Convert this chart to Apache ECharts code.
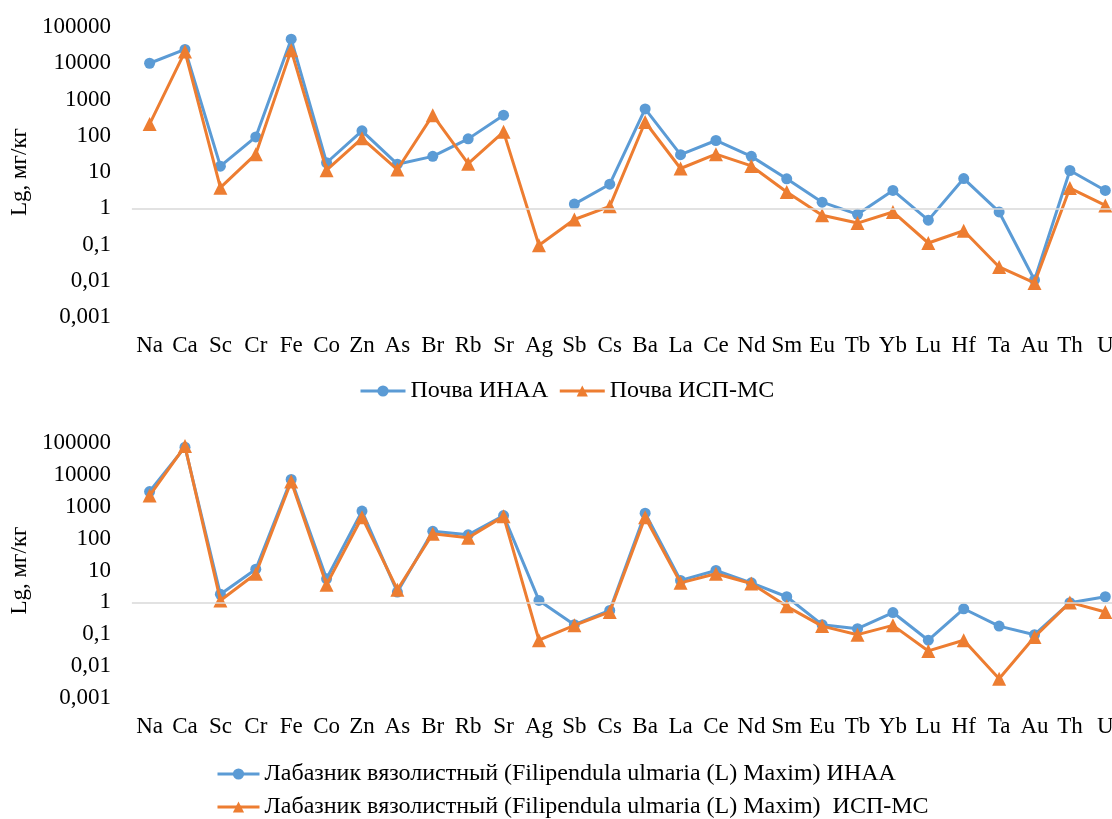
<!DOCTYPE html>
<html>
<head>
<meta charset="utf-8">
<script src="https://cdn.jsdelivr.net/npm/echarts@6/dist/echarts.min.js"></script>
<style>
  html, body { margin: 0; padding: 0; background: #fff; overflow: hidden; }
  /* the plot runs slightly past the right edge of the page, like the last category's half-band */
  #chart { width: 1124px; height: 819px; }
</style>
</head>
<body>
<div id="chart"></div>
<script>
// Elements (x categories)
const categories = ['Na','Ca','Sc','Cr','Fe','Co','Zn','As','Br','Rb','Sr','Ag','Sb','Cs','Ba','La','Ce','Nd','Sm','Eu','Tb','Yb','Lu','Hf','Ta','Au','Th','U'];

// Soil, mg/kg
const soilINAA = [10000, 24000, 14.5, 93, 46000, 18, 137, 16.4, 27, 82, 370, null, 1.3, 4.6, 550, 30, 74, 27, 6.5, 1.47, 0.68, 3.1, 0.47, 6.6, 0.79, 0.0105, 11, 3.1];
const soilICPMS = [210, 21000, 3.7, 31, 23000, 11.2, 85, 11.7, 370, 17, 128, 0.095, 0.49, 1.13, 240, 12.5, 31, 14.7, 2.8, 0.64, 0.39, 0.79, 0.11, 0.24, 0.024, 0.0087, 3.6, 1.2];

// Meadowsweet, mg/kg
const plantINAA = [3000, 74000, 1.8, 11, 7200, 5.5, 730, 2.1, 170, 132, 530, 1.15, 0.2, 0.56, 630, 4.9, 10, 4.1, 1.5, 0.2, 0.15, 0.48, 0.065, 0.63, 0.18, 0.097, 0.98, 1.5];
const plantICPMS = [2250, 80000, 1.15, 7.9, 6200, 3.6, 470, 2.5, 142, 107, 500, 0.065, 0.19, 0.5, 470, 4.1, 7.9, 3.9, 0.75, 0.18, 0.097, 0.19, 0.03, 0.065, 0.004, 0.082, 1.0, 0.5];

// Log-axis tick labels, 10^-3 .. 10^5
const yTickLabels = ['0,001','0,01','0,1','1','10','100','1000','10000','100000'];

const seriesNames = ['Почва ИНАА', 'Почва ИСП-МС',
  'Лабазник вязолистный (Filipendula ulmaria (L) Maxim) ИНАА',
  'Лабазник вязолистный (Filipendula ulmaria (L) Maxim)  ИСП-МС'];

const BLUE = '#5B9BD5';
const ORANGE = '#ED7D31';
const FONT = '"Liberation Serif", "DejaVu Serif", serif';

const chart = echarts.init(document.getElementById('chart'), null, { renderer: 'canvas' });

function xAxisDef(gridIndex) {
  return {
    type: 'category', gridIndex, data: categories, boundaryGap: true,
    axisLine: { show: false }, axisTick: { show: false }, splitLine: { show: false },
    axisLabel: { interval: 0, fontFamily: FONT, fontSize: 23, color: '#000', margin: 17 }
  };
}
function yAxisDef(gridIndex) {
  return {
    type: 'log', logBase: 10, gridIndex, min: 0.001, max: 100000,
    name: 'Lg, мг/кг', nameLocation: 'middle', nameGap: 97, nameRotate: 90,
    nameTextStyle: { fontFamily: FONT, fontSize: 23, color: '#000' },
    axisLine: { show: false }, axisTick: { show: false }, splitLine: { show: false },
    axisLabel: {
      fontFamily: FONT, fontSize: 23, color: '#000', margin: 21,
      formatter: v => yTickLabels[Math.round(Math.log10(v)) + 3]
    }
  };
}
// Horizontal reference line at 1 mg/kg (where the category axis crosses)
const crossLine = {
  silent: true, symbol: 'none', label: { show: false },
  lineStyle: { color: '#d9d9d9', width: 1.5, type: 'solid' },
  data: [{ yAxis: 1 }]
};
function lineSeries(name, data, idx, color, symbol, size, withLine) {
  const s = {
    name, type: 'line', data, xAxisIndex: idx, yAxisIndex: idx,
    symbol, symbolSize: size, showAllSymbol: true, connectNulls: false,
    itemStyle: { color }, lineStyle: { color, width: 3 }, z: symbol === 'triangle' ? 3 : 2,
    animation: false
  };
  if (withLine) s.markLine = crossLine;
  return s;
}

const legendText = { fontFamily: FONT, fontSize: 24, color: '#000' };
const legendLine = { width: 3 };

chart.setOption({
  backgroundColor: '#fff',
  animation: false,
  grid: [
    { left: 130, width: 993, top: 27, height: 290 },
    { left: 130, width: 993, top: 443, height: 255 }
  ],
  xAxis: [xAxisDef(0), xAxisDef(1)],
  yAxis: [yAxisDef(0), yAxisDef(1)],
  legend: [
    {
      data: [seriesNames[0], seriesNames[1]], top: 374, left: 354,
      itemWidth: 45, itemHeight: 14, itemGap: 10, textStyle: legendText, lineStyle: legendLine
    },
    {
      data: [seriesNames[2]], top: 757, left: 211,
      itemWidth: 42, itemHeight: 14, textStyle: legendText, lineStyle: legendLine
    },
    {
      data: [seriesNames[3]], top: 790, left: 211,
      itemWidth: 42, itemHeight: 14, textStyle: legendText, lineStyle: legendLine
    }
  ],
  series: [
    lineSeries(seriesNames[0], soilINAA, 0, BLUE, 'circle', 11, true),
    lineSeries(seriesNames[1], soilICPMS, 0, ORANGE, 'triangle', 14, false),
    lineSeries(seriesNames[2], plantINAA, 1, BLUE, 'circle', 11, true),
    lineSeries(seriesNames[3], plantICPMS, 1, ORANGE, 'triangle', 14, false)
  ]
});
</script>
</body>
</html>
